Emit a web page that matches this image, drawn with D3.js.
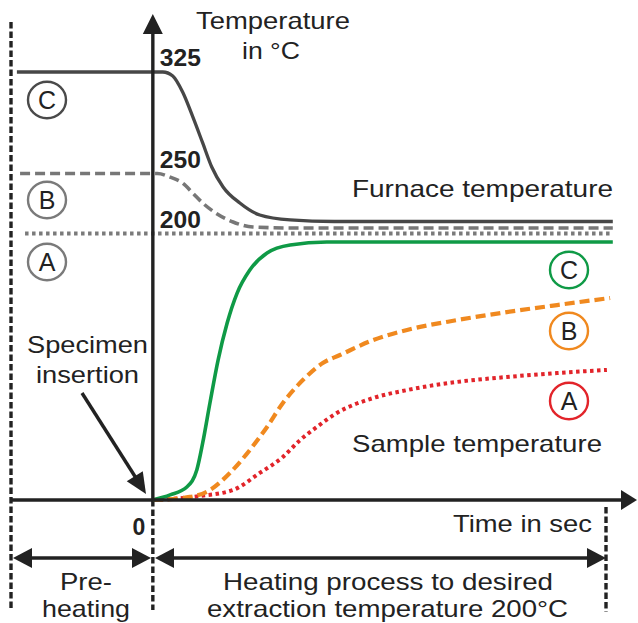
<!DOCTYPE html>
<html>
<head>
<meta charset="utf-8">
<script src="https://cdn.jsdelivr.net/npm/d3@7"></script>
<style>
  html, body { margin: 0; padding: 0; background: #fff; }
  svg { display: block; }
</style>
</head>
<body>
<script>
// ---- Data: time in s (0 = specimen insertion), temperature in °C ----
// Furnace temperature for the three pre-heating strategies
const furnaceC = [[-30, 325], [2.2, 325], [4.4, 322], [6.6, 310], [8.8, 292], [11, 272.6], [13, 254.8],
                  [15.5, 238.8], [19.2, 225.4], [23.6, 215.4], [30.3, 211.3], [40, 210], [101.5, 210]];
const furnaceB = [[-29.3, 250], [1, 250], [3.8, 247], [6.6, 242], [8.8, 233.8], [11, 225.4], [14.2, 216.3],
                  [17.7, 209.6], [22.1, 205.4], [30.3, 204.6], [101.5, 204.6]];
const furnaceA = [[-28.2, 200], [101.5, 200]];

// Sample temperature for the three strategies
const sampleC = [[0, 0], [3.8, 3.8], [7.5, 9.8], [9.7, 22.5], [11, 42.8], [12.6, 72.8], [14.4, 105],
                 [16.4, 132.8], [18.6, 155.3], [21.4, 172.6], [25.2, 185.4], [30.3, 191.4], [38.4, 193.6], [101.5, 193.6]];
const sampleB = [[0, 0], [8.2, 2.3], [12.6, 7.5], [17, 20.3], [21.4, 37.5], [25.2, 54.8], [28.7, 72.8],
                 [33.1, 90], [37.5, 102.8], [41.3, 108.8], [48.6, 120], [56.1, 127.6], [67.1, 135],
                 [78.1, 141], [89.2, 146.3], [100.9, 151.6]];
const sampleA = [[0, 0], [10.4, 3], [17.7, 7.5], [23.6, 20.3], [28.7, 32.3], [32.5, 45], [36.2, 54.8],
                 [40.6, 65.3], [48.6, 76.5], [56.1, 82.5], [67.1, 88.6], [78.1, 92.3], [89.2, 95.3], [100.2, 97.6]];

const tempTicks = [325, 250, 200];
const timeTicks = [0];
const timeStart = -31.3;   // start of pre-heating
const timeEnd = 100;       // desired extraction temperature reached

// ---- Canvas ----
const W = 638, H = 623;
const svg = d3.select("body").append("svg").attr("width", W).attr("height", H);

const ink = "#222222";
const font = "'Liberation Sans', Arial, Helvetica, sans-serif";

const x = d3.scaleLinear().domain([timeStart, timeEnd]).range([11, 606]);
const y = d3.scaleLinear().domain([0, 200, 250, 325]).range([500, 233.5, 173.5, 72]);

const line = d3.line().x(d => x(d[0])).y(d => y(d[1])).curve(d3.curveMonotoneX);

function label(str, px, py, opts = {}) {
  const t = svg.append("text")
    .attr("x", px).attr("y", py)
    .attr("font-family", font)
    .attr("font-size", opts.size || 24)
    .attr("font-weight", opts.weight || "normal")
    .attr("fill", opts.fill || ink)
    .attr("text-anchor", opts.anchor || "start")
    .text(str);
  if (opts.width) t.attr("textLength", opts.width).attr("lengthAdjust", "spacingAndGlyphs");
  return t;
}

function arrowHead(tipX, tipY, angle, len, half) {
  // triangle pointing along angle (radians) with tip at (tipX, tipY)
  const bx = tipX - len * Math.cos(angle), by = tipY - len * Math.sin(angle);
  const nx = -Math.sin(angle) * half, ny = Math.cos(angle) * half;
  svg.append("path")
    .attr("d", `M${tipX},${tipY}L${bx + nx},${by + ny}L${bx - nx},${by - ny}Z`)
    .attr("fill", ink);
}

// ---- Phase boundaries (dashed verticals) ----
[[x(timeStart), 22, 610], [x(0), y(0), 610], [x(timeEnd), 507, 612]].forEach(([vx, y1, y2]) => {
  svg.append("line").attr("x1", vx).attr("x2", vx).attr("y1", y1).attr("y2", y2)
    .attr("stroke", ink).attr("stroke-width", 3.4).attr("stroke-dasharray", "6.5,3");
});

// ---- Furnace curves ----
const furnaceStyles = [
  { data: furnaceA, color: "#7a7a7a", dash: "3.5,3.5", width: 3.8 },
  { data: furnaceB, color: "#777777", dash: "10,5", width: 3.6 },
  { data: furnaceC, color: "#474747", dash: null, width: 3.3 }
];
furnaceStyles.forEach(s => {
  svg.append("path").datum(s.data).attr("d", line)
    .attr("fill", "none").attr("stroke", s.color).attr("stroke-width", s.width)
    .attr("stroke-dasharray", s.dash);
});

// ---- Sample curves ----
const sampleStyles = [
  { data: sampleA, color: "#e2242a", dash: "3.5,3.5", width: 4 },
  { data: sampleB, color: "#f0891f", dash: "10,5", width: 4.2 },
  { data: sampleC, color: "#0f9a46", dash: null, width: 3.6 }
];
sampleStyles.forEach(s => {
  svg.append("path").datum(s.data).attr("d", line)
    .attr("fill", "none").attr("stroke", s.color).attr("stroke-width", s.width)
    .attr("stroke-dasharray", s.dash);
});

// ---- Axes ----
const x0 = x(0), y0 = y(0);
svg.append("line").attr("x1", x0).attr("x2", x0).attr("y1", y0 + 1.5).attr("y2", 30)
  .attr("stroke", ink).attr("stroke-width", 3.4);
arrowHead(x0, 14, -Math.PI / 2, 20, 10);
svg.append("line").attr("x1", 12).attr("x2", 624).attr("y1", y0).attr("y2", y0)
  .attr("stroke", ink).attr("stroke-width", 3.4);
arrowHead(637, y0, 0, 16, 10);

// temperature labels sit just above their level
const yAxis = svg.append("g").attr("transform", `translate(${x0},0)`)
  .call(d3.axisRight(y).tickValues(tempTicks).tickSize(0).tickPadding(7).tickFormat(d3.format("d")));
yAxis.select(".domain").remove();
yAxis.selectAll("text")
  .attr("dy", "-0.28em")
  .attr("font-family", font).attr("font-size", 23).attr("font-weight", "bold").attr("fill", ink)
  .attr("textLength", 41).attr("lengthAdjust", "spacingAndGlyphs");

const xAxis = svg.append("g").attr("transform", `translate(0,${y0})`)
  .call(d3.axisBottom(x).tickValues(timeTicks).tickSize(0).tickPadding(14).tickFormat(d3.format("d")));
xAxis.select(".domain").remove();
xAxis.selectAll("text")
  .attr("x", -8).attr("text-anchor", "end").attr("dy", "0.9em")
  .attr("font-family", font).attr("font-size", 23).attr("font-weight", "bold").attr("fill", ink);

// ---- Axis titles and annotations ----
label("Temperature", 196, 29, { width: 154 });
label("in °C", 242, 59, { width: 58 });
label("Furnace temperature", 352, 197, { width: 261 });
label("Sample temperature", 352, 452, { width: 250 });
label("Time in sec", 453, 532, { width: 139 });
label("Specimen", 27, 353, { width: 121 });
label("insertion", 36, 383, { width: 103 });
label("Pre-", 60, 590, { width: 52 });
label("heating", 42, 617, { width: 88 });
label("Heating process to desired", 223, 590, { width: 330 });
label("extraction temperature 200°C", 207, 617, { width: 361 });

// Specimen insertion pointer
svg.append("line").attr("x1", 82).attr("y1", 393).attr("x2", 136).attr("y2", 478)
  .attr("stroke", ink).attr("stroke-width", 3.4);
arrowHead(146, 494, Math.atan2(494 - 393, 146 - 82), 21, 9.5);

// Phase duration arrows
const yPhase = 558;
[[13, 151], [155, 606]].forEach(([a, b]) => {
  svg.append("line").attr("x1", a + 15).attr("x2", b - 15).attr("y1", yPhase).attr("y2", yPhase)
    .attr("stroke", ink).attr("stroke-width", 3.4);
  arrowHead(a, yPhase, Math.PI, 19, 10);
  arrowHead(b, yPhase, 0, 19, 10);
});

// ---- Curve markers (circled letters) ----
const furnaceMarks = [
  { key: "C", cx: 47, cy: 100, color: "#4a4a4a" },
  { key: "B", cx: 47, cy: 200, color: "#7a7a7a" },
  { key: "A", cx: 47, cy: 262, color: "#7a7a7a" }
];
const sampleMarks = [
  { key: "C", cx: 569, cy: 270, color: "#0f9a46" },
  { key: "B", cx: 569, cy: 331, color: "#f0891f" },
  { key: "A", cx: 569, cy: 401, color: "#e2242a" }
];
furnaceMarks.concat(sampleMarks).forEach(m => {
  svg.append("ellipse").attr("cx", m.cx).attr("cy", m.cy).attr("rx", 19).attr("ry", 18.3)
    .attr("fill", "#fff").attr("stroke", m.color).attr("stroke-width", 2.4);
  svg.append("text").attr("x", m.cx).attr("y", m.cy + 9)
    .attr("text-anchor", "middle")
    .attr("font-family", font).attr("font-size", 25).attr("fill", ink)
    .text(m.key);
});
</script>
</body>
</html>
